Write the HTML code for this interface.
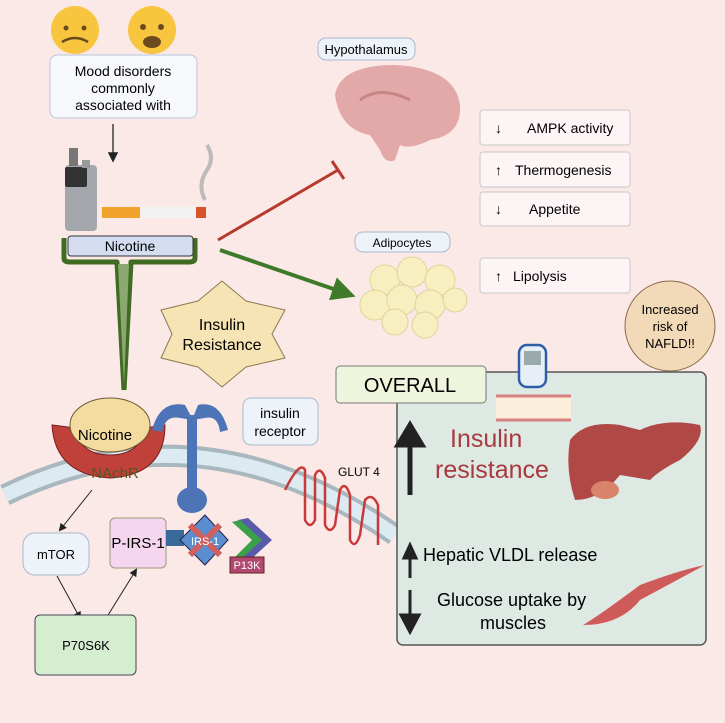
<!DOCTYPE html>
<html><head><meta charset="utf-8"><style>
html,body{margin:0;padding:0;background:#fbe9e7}
svg{display:block;font-family:"Liberation Sans",sans-serif}
</style></head><body>
<svg width="725" height="723" viewBox="0 0 725 723">
<rect width="725" height="723" fill="#fbe9e7"/>
<defs>
<marker id="ah" markerWidth="8" markerHeight="8" refX="6" refY="4" orient="auto"><path d="M0,0 L8,4 L0,8 z" fill="#222"/></marker>
<marker id="ga" markerWidth="6" markerHeight="6" refX="4" refY="3" orient="auto"><path d="M0,0 L6,3 L0,6 z" fill="#3d7a2a"/></marker>
</defs>
<!-- emojis -->
<circle cx="75" cy="30" r="24" fill="#f7c53e"/><circle cx="152" cy="30" r="24" fill="#f7c53e"/>
<path d="M62,42 q13,-8 26,0" stroke="#6b4a1c" stroke-width="2.5" fill="none"/>
<ellipse cx="152" cy="42" rx="9" ry="6" fill="#6b4a1c"/>
<circle cx="66" cy="28" r="2.5" fill="#6b4a1c"/><circle cx="84" cy="28" r="2.5" fill="#6b4a1c"/>
<circle cx="143" cy="27" r="3" fill="#6b4a1c"/><circle cx="161" cy="27" r="3" fill="#6b4a1c"/>
<rect x="50" y="55" width="147" height="63" rx="7" fill="#f6f8fb" stroke="#b8c8d8"/>
<text x="123" y="76" font-size="14" text-anchor="middle">Mood disorders</text>
<text x="123" y="93" font-size="14" text-anchor="middle">commonly</text>
<text x="123" y="110" font-size="14" text-anchor="middle">associated with</text>
<line x1="113" y1="124" x2="113" y2="160" stroke="#222" stroke-width="1.3" marker-end="url(#ah)"/>
<!-- vape and cigarette -->
<rect x="65" y="165" width="32" height="66" rx="4" fill="#a4a8ac"/><rect x="65" y="167" width="22" height="20" rx="2" fill="#333"/>
<rect x="69" y="148" width="9" height="18" fill="#777"/><rect x="82" y="160" width="8" height="8" fill="#999"/>
<rect x="102" y="207" width="38" height="11" fill="#f0a22a"/><rect x="140" y="207" width="58" height="11" fill="#f2f2f2"/><rect x="196" y="207" width="10" height="11" fill="#d9532a"/>
<path d="M205,200 q-8,-15 2,-30 q8,-12 0,-25" stroke="#bbb" stroke-width="4" fill="none"/>
<!-- nicotine bar + bracket -->
<path d="M64,238 L64,258 Q64,262 70,262 L117,262 L124,390" stroke="#3f6b22" stroke-width="5" fill="none" stroke-linejoin="round"/>
<path d="M195,238 L195,258 Q195,262 189,262 L131,262 L124,390" stroke="#3f6b22" stroke-width="5" fill="none" stroke-linejoin="round"/>
<path d="M118,264 L124,385 L129,264z" fill="#8aa870"/>
<rect x="68" y="236" width="125" height="20" rx="3" fill="#d4dcf0" stroke="#333"/>
<text x="130" y="251" font-size="14" text-anchor="middle">Nicotine</text>
<!-- red inhibition -->
<line x1="218" y1="240" x2="338" y2="170" stroke="#b83a2e" stroke-width="3"/>
<line x1="332" y1="161" x2="344" y2="179" stroke="#b83a2e" stroke-width="3"/>
<!-- green arrow -->
<line x1="220" y1="250" x2="348" y2="294" stroke="#3d7a2a" stroke-width="4" marker-end="url(#ga)"/>
<!-- hypothalamus -->
<rect x="318" y="38" width="97" height="22" rx="8" fill="#eef3fa" stroke="#a9b9cc"/>
<text x="366" y="54" font-size="13" text-anchor="middle">Hypothalamus</text>
<path d="M335,95 Q340,65 395,65 Q455,68 460,105 Q462,135 430,140 Q410,150 400,145 L395,160 Q385,165 380,150 L370,135 Q340,130 335,95z" fill="#e3a9a9"/>
<path d="M360,100 q20,-15 50,0" stroke="#c98585" stroke-width="3" fill="none"/>
<rect x="480" y="110" width="150" height="35" rx="3" fill="#fdf4f5" stroke="#c8c8c8"/>
<rect x="480" y="152" width="150" height="35" rx="3" fill="#fdf4f5" stroke="#c8c8c8"/>
<rect x="480" y="192" width="150" height="34" rx="3" fill="#fdf4f5" stroke="#c8c8c8"/>
<rect x="480" y="258" width="150" height="35" rx="3" fill="#fdf4f5" stroke="#c8c8c8"/>
<g font-size="14"><text x="495" y="133">↓</text><text x="527" y="133">AMPK activity</text>
<text x="495" y="175">↑</text><text x="515" y="175">Thermogenesis</text>
<text x="495" y="214">↓</text><text x="529" y="214">Appetite</text>
<text x="495" y="281">↑</text><text x="513" y="281">Lipolysis</text></g>
<!-- adipocytes -->
<rect x="355" y="232" width="95" height="20" rx="8" fill="#eef3fa" stroke="#a9b9cc"/>
<text x="402" y="247" font-size="12" text-anchor="middle">Adipocytes</text>
<g fill="#f7efc0" stroke="#e0d39a">
<circle cx="385" cy="280" r="15"/><circle cx="412" cy="272" r="15"/><circle cx="440" cy="280" r="15"/><circle cx="375" cy="305" r="15"/><circle cx="402" cy="300" r="15"/><circle cx="430" cy="305" r="15"/><circle cx="455" cy="300" r="12"/><circle cx="395" cy="322" r="13"/><circle cx="425" cy="325" r="13"/></g>
<!-- star -->
<path d="M222,281 L246,301 L285,310 L272,334 L285,358 L246,367 L222,387 L198,367 L161,358 L172,334 L161,310 L198,301z" fill="#f6e4b5" stroke="#8a7a50" stroke-linejoin="round"/>
<text x="222" y="330" font-size="16" text-anchor="middle">Insulin</text>
<text x="222" y="350" font-size="16" text-anchor="middle">Resistance</text>
<!-- membrane -->
<path d="M5,495 Q200,400 395,535" stroke="#a9b8bf" stroke-width="22" fill="none"/>
<path d="M5,495 Q200,400 395,535" stroke="#dceaf2" stroke-width="14" fill="none"/>
<!-- overall box -->
<rect x="397" y="372" width="309" height="273" rx="6" fill="#dfe9e4" stroke="#555" stroke-width="1.5"/>
<rect x="336" y="366" width="150" height="37" rx="4" fill="#eef5dc" stroke="#777"/>
<text x="410" y="392" font-size="20" text-anchor="middle">OVERALL</text>
<circle cx="670" cy="326" r="45" fill="#f2d9b8" stroke="#8b6a4a"/>
<g font-size="13" text-anchor="middle"><text x="670" y="314">Increased</text><text x="670" y="331">risk of</text><text x="670" y="348">NAFLD!!</text></g>
<!-- glucometer & vessel -->
<rect x="496" y="395" width="75" height="26" fill="#fbeeda"/><line x1="496" y1="396" x2="571" y2="396" stroke="#d98080" stroke-width="3"/><line x1="496" y1="420" x2="571" y2="420" stroke="#d98080" stroke-width="3"/>
<rect x="519" y="345" width="27" height="42" rx="8" fill="#e8eef5" stroke="#2e5ea8" stroke-width="2.5"/><rect x="524" y="351" width="17" height="14" fill="#9aa"/>
<!-- insulin resistance -->
<path d="M410,495 L410,440 M398,445 L410,425 L422,445z" stroke="#222" stroke-width="5" fill="#222"/>
<text x="450" y="447" font-size="25" fill="#a8393e">Insulin</text>
<text x="435" y="478" font-size="25" fill="#a8393e">resistance</text>
<path d="M570,440 Q585,420 620,425 L640,430 Q665,418 700,425 Q705,440 680,460 Q660,470 650,480 L620,475 Q600,500 575,500 Q565,470 570,440z" fill="#b04845"/>
<ellipse cx="605" cy="490" rx="14" ry="9" fill="#d9836a"/>
<path d="M410,578 L410,553 M404,558 L410,545 L416,558z" stroke="#222" stroke-width="3" fill="#222"/>
<text x="423" y="561" font-size="18">Hepatic VLDL release</text>
<path d="M410,590 L410,620 M401,615 L410,632 L419,615z" stroke="#222" stroke-width="3" fill="#222"/>
<text x="437" y="606" font-size="18">Glucose uptake by</text>
<text x="480" y="629" font-size="18">muscles</text>
<path d="M583,625 Q600,615 640,585 Q680,570 705,565 L640,600 Q620,625 583,625z" fill="#cf5a5a"/>
<!-- nicotine / NAchR -->
<path d="M52,425 Q55,475 110,478 Q165,475 165,425 L145,428 Q140,455 110,455 Q80,455 75,428z" fill="#c0403a" stroke="#7a2020"/>
<ellipse cx="110" cy="425" rx="40" ry="27" fill="#f4dca0" stroke="#6b5a30"/>
<text x="105" y="440" font-size="15" text-anchor="middle">Nicotine</text>
<text x="115" y="478" font-size="15" text-anchor="middle" fill="#552">NAchR</text>
<!-- insulin receptor -->
<g fill="#4c74b6"><path d="M152,430 Q160,400 185,405 L193,420 L180,418 Q165,415 162,432z"/><path d="M228,430 Q220,400 198,405 L192,420 L205,418 Q218,415 220,432z"/>
<rect x="187" y="415" width="10" height="80"/><ellipse cx="192" cy="500" rx="15" ry="13"/></g>
<rect x="243" y="398" width="75" height="47" rx="8" fill="#eef3fa" stroke="#a9b9cc"/>
<text x="280" y="418" font-size="14" text-anchor="middle">insulin</text><text x="280" y="436" font-size="14" text-anchor="middle">receptor</text>
<!-- GLUT4 -->
<path d="M285,490 Q300,460 305,470 L305,520 Q310,530 315,520 L315,475 Q320,465 325,478 L325,525 Q330,535 335,525 L340,490 Q345,480 350,495 L350,540 Q355,550 360,535 L365,500 Q372,492 378,505 L378,545" stroke="#c83a3a" stroke-width="2.5" fill="none"/>
<text x="338" y="476" font-size="12">GLUT 4</text>
<!-- pathway -->
<line x1="92" y1="490" x2="60" y2="530" stroke="#222" marker-end="url(#ah)"/>
<rect x="23" y="533" width="66" height="42" rx="12" fill="#eef3fa" stroke="#a9b9cc"/>
<text x="56" y="559" font-size="13" text-anchor="middle">mTOR</text>
<rect x="110" y="518" width="56" height="50" rx="5" fill="#f6d5ee" stroke="#997"/>
<text x="138" y="548" font-size="15" text-anchor="middle">P-IRS-1</text>
<rect x="166" y="530" width="18" height="16" fill="#3a6a9a"/>
<path d="M205,515 L228,540 L205,565 L180,540z" fill="#5a8ed0" stroke="#224"/>
<path d="M190,525 L220,555 M220,525 L190,555" stroke="#d06060" stroke-width="6"/>
<text x="205" y="545" font-size="11" fill="#fff" text-anchor="middle">IRS-1</text>
<path d="M238,520 L258,540 L240,560 L250,560 L272,540 L248,518z" fill="#5a5aaa"/>
<path d="M232,522 L252,540 L234,558 L242,558 L262,540 L240,520z" fill="#3aa04a"/>
<rect x="230" y="557" width="34" height="16" fill="#b04870" stroke="#622"/>
<text x="247" y="569" font-size="11" fill="#fff" text-anchor="middle">P13K</text>
<line x1="57" y1="576" x2="80" y2="618" stroke="#222" marker-end="url(#ah)"/>
<line x1="105" y1="620" x2="136" y2="570" stroke="#222" marker-end="url(#ah)"/>
<rect x="35" y="615" width="101" height="60" rx="5" fill="#d6eed0" stroke="#445"/>
<text x="86" y="650" font-size="13" text-anchor="middle">P70S6K</text>
</svg>
</body></html>
